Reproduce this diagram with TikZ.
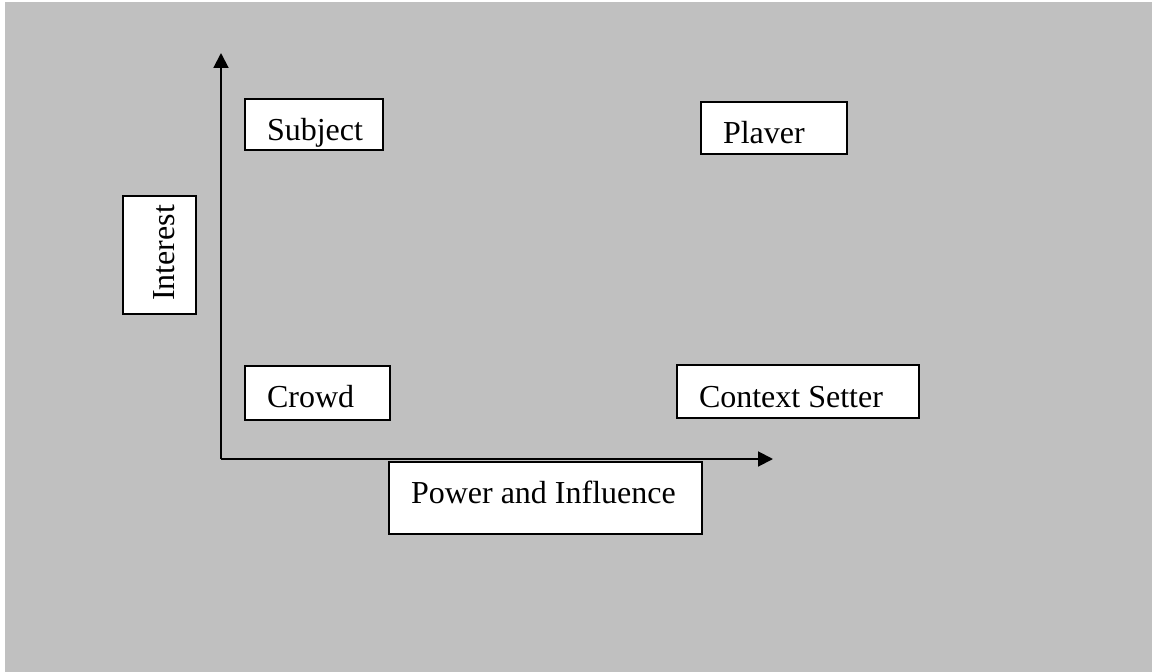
\documentclass[tikz,border=0pt]{standalone}
\usepackage{fontspec}
\setmainfont{Liberation Serif}
\usetikzlibrary{arrows.meta}
\definecolor{panelgray}{RGB}{192, 192, 192}

\begin{document}
\begin{tikzpicture}[x = 0.375pt, y = -0.375pt,
		quadbox/.style = {draw, fill = white, line width = 0.75pt, anchor = north west, inner xsep = 8.25pt, inner ysep = 0pt, text height = 15.4pt, text depth = 4pt, font = \fontsize{12}{14}\selectfont, execute at begin node = {\hbox to #1\bgroup}, execute at end node = {\hfil\egroup}},
		axis/.style = {line width = 0.75pt, -{Triangle[length = 5.6pt, width = 5.6pt]}}]
		\useasboundingbox (0,0) rectangle (1152,672);
		\fill[white] (0,0) rectangle (1152,672);
		\fill[panelgray] (5,2) rectangle (1152,672);
		\coordinate (origin) at (221,459);
		\coordinate (ytip) at (221,53);
		\coordinate (xtip) at (773,459);
		\draw[axis] (origin) -- (ytip);
		\draw[axis] (origin) -- (xtip);
		\node (subject) at (244,98) [quadbox = 35.25pt, text depth = 3.75pt] {Subject};
		\node (player) at (700,101) [quadbox = 38.25pt, text depth = 4.1pt] {Plaver};
		\node (crowd) at (244,365) [quadbox = 37.875pt, text depth = 4.9pt] {Crowd};
		\node (setter) at (676,364) [quadbox = 74.25pt, text height = 15.75pt, text depth = 4.1pt] {Context Setter};
		\node (power) at (388,461) [quadbox = 100.875pt, text depth = 11.6pt] {Power and Influence};
		\node (interest) at (197,315) [quadbox = 34.5pt, rotate = 90, anchor = south west, inner xsep = 4.9pt, text height = 19.5pt, text depth = 7.9pt] {Interest};
\end{tikzpicture}
\end{document}
